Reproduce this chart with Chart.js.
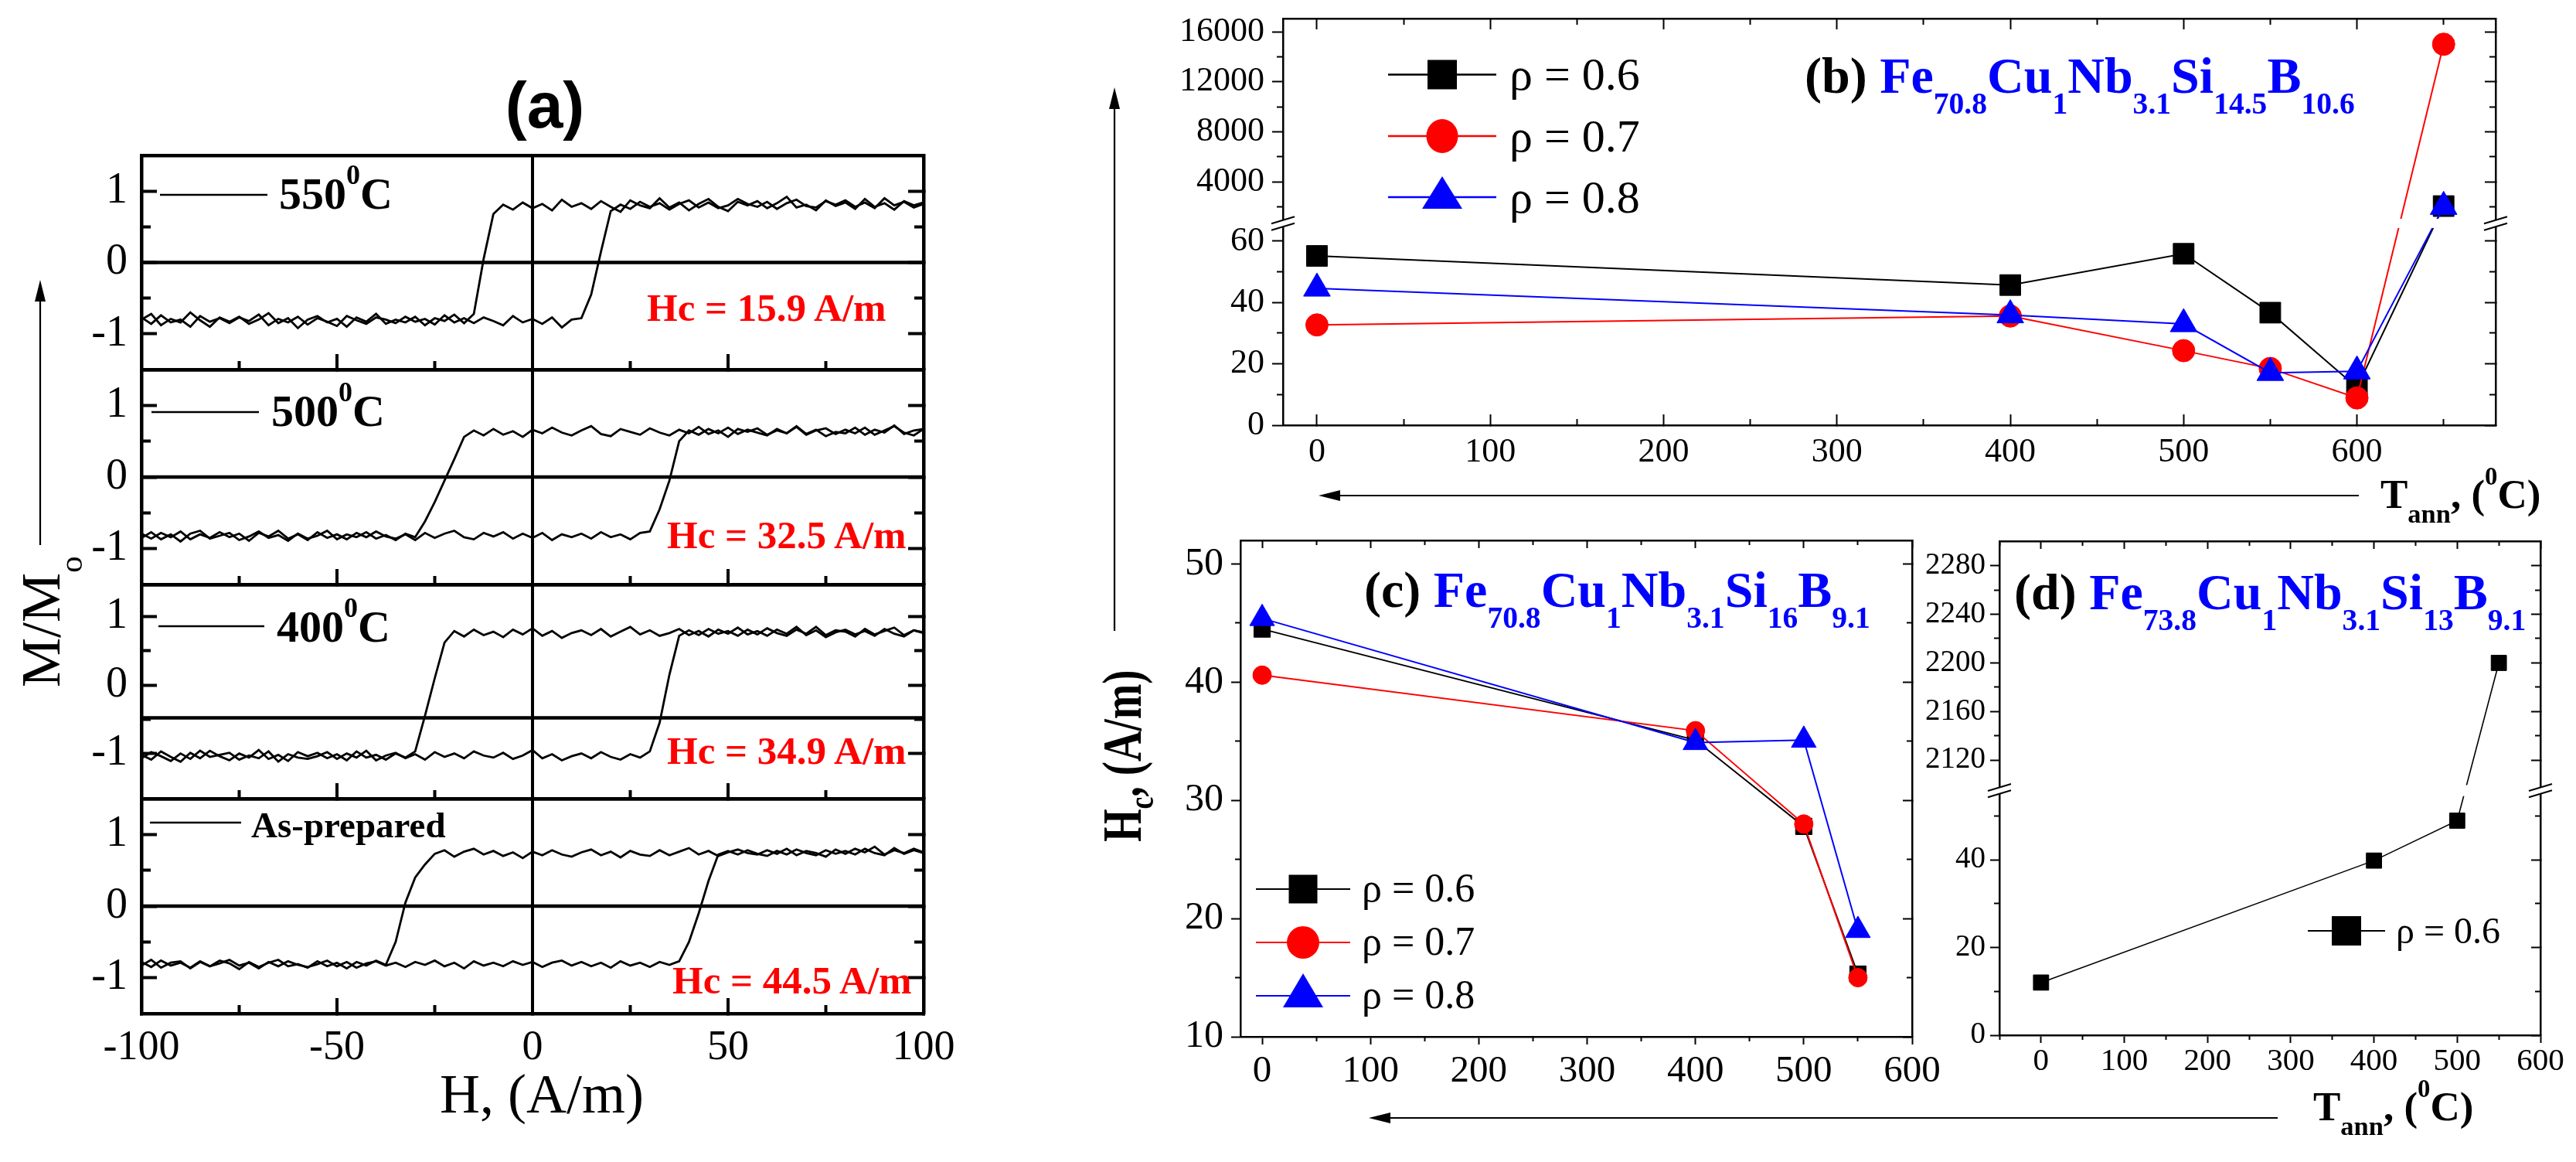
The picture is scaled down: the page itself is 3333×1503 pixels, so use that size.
<!DOCTYPE html>
<html>
<head>
<meta charset="utf-8">
<script src="https://cdn.jsdelivr.net/npm/chart.js@4.4.1/dist/chart.umd.min.js"></script>
<style>
html, body { margin: 0; padding: 0; background: #fff; }
#page { position: relative; width: 3333px; height: 1503px; overflow: hidden; background: #fff;
        font-family: 'Liberation Serif', 'Times New Roman', serif; color: #000; }
canvas { position: absolute; }
svg { position: absolute; left: 0; top: 0; }
.t { position: absolute; white-space: nowrap; line-height: 1; }
.b { font-weight: bold; }
.red { color: #f00; }
.blue { color: #00f; }
.t sub { font-size: 60%; line-height: 0; vertical-align: baseline; position: relative; top: 0.68em; }
.t sup { font-size: 62%; line-height: 0; vertical-align: baseline; position: relative; top: -0.9em; }
.t sub.a { font-size: 65%; top: 0.58em; }
.t sub.c { font-size: 65%; top: 0.35em; }
.rot { transform-origin: 0 0; transform: rotate(-90deg); }
</style>
</head>
<body>
<div id="page">
<svg id="deco" width="3333" height="1503" viewBox="0 0 3333 1503">
  <g stroke="#000" stroke-width="2.5">
    <line x1="207" y1="252" x2="346" y2="252"/>
    <line x1="196" y1="533" x2="335" y2="533"/>
    <line x1="205" y1="810" x2="342" y2="810"/>
    <line x1="194" y1="1064" x2="312" y2="1064"/>
  </g>
  <g stroke="#000" stroke-width="2.2">
    <line x1="52" y1="705" x2="52" y2="385"/>
    <line x1="1442" y1="816" x2="1442" y2="135"/>
    <line x1="1730" y1="641" x2="3052" y2="641"/>
    <line x1="1795" y1="1446" x2="2947" y2="1446"/>
  </g>
  <g fill="#000">
    <polygon points="52,362 45,390 59,390"/>
    <polygon points="1442,113 1435,141 1449,141"/>
    <polygon points="1706,641 1734,634 1734,648"/>
    <polygon points="1771,1446 1799,1439 1799,1453"/>
  </g>
  <!-- legend glyphs (b) -->
  <line x1="1796" y1="96.5" x2="1936" y2="96.5" stroke="#000" stroke-width="2.5"/>
  <rect x="1847" y="77.5" width="38" height="38" fill="#000"/>
  <line x1="1796" y1="176" x2="1936" y2="176" stroke="#f00" stroke-width="2.5"/>
  <ellipse cx="1866" cy="176" rx="20.5" ry="22" fill="#f00"/>
  <line x1="1796" y1="255" x2="1936" y2="255" stroke="#00f" stroke-width="2.5"/>
  <polygon points="1866,228 1840,270 1892,270" fill="#00f"/>
  <!-- legend glyphs (c) -->
  <line x1="1625" y1="1150" x2="1747" y2="1150" stroke="#000" stroke-width="2.2"/>
  <rect x="1667.5" y="1131.5" width="37" height="37" fill="#000"/>
  <line x1="1625" y1="1219" x2="1747" y2="1219" stroke="#f00" stroke-width="2.2"/>
  <ellipse cx="1686" cy="1219" rx="21" ry="21" fill="#f00"/>
  <line x1="1625" y1="1288" x2="1747" y2="1288" stroke="#00f" stroke-width="2.2"/>
  <polygon points="1686,1259 1660,1303 1712,1303" fill="#00f"/>
  <!-- legend glyph (d) -->
  <line x1="2986" y1="1204" x2="3086" y2="1204" stroke="#000" stroke-width="2"/>
  <rect x="3017" y="1185" width="38" height="38" fill="#000"/>
</svg>

<div class="t" style="left:705px;top:94px;font-size:84px;font-family:'Liberation Sans',Arial,sans-serif;font-weight:bold;transform:translateX(-50%)">(a)</div>
<div class="t b" style="left:361px;top:222.3px;font-size:58px">550<sup>0</sup>C</div>
<div class="t b" style="left:351px;top:503.3px;font-size:58px">500<sup>0</sup>C</div>
<div class="t b" style="left:358px;top:782.3px;font-size:58px">400<sup>0</sup>C</div>
<div class="t b" style="left:325px;top:1043.5px;font-size:47px">As-prepared</div>
<div class="t b red" style="left:837px;top:372.7px;font-size:51px">Hc = 15.9 A/m</div>
<div class="t b red" style="left:863px;top:667.2px;font-size:51px">Hc = 32.5 A/m</div>
<div class="t b red" style="left:863px;top:946.2px;font-size:51px">Hc = 34.9 A/m</div>
<div class="t b red" style="left:870px;top:1243.2px;font-size:51px">Hc = 44.5 A/m</div>
<div class="t" style="left:569px;top:1378.5px;font-size:72px">H, (A/m)</div>
<div class="t rot" style="left:16.5px;top:889px;font-size:72px">M/M<sub>o</sub></div>

<div class="t b" style="left:2335px;top:64.6px;font-size:66px">(b) <span class="blue">Fe<sub>70.8</sub>Cu<sub>1</sub>Nb<sub>3.1</sub>Si<sub>14.5</sub>B<sub>10.6</sub></span></div>
<div class="t b" style="left:1765px;top:729.6px;font-size:66px">(c) <span class="blue">Fe<sub>70.8</sub>Cu<sub>1</sub>Nb<sub>3.1</sub>Si<sub>16</sub>B<sub>9.1</sub></span></div>
<div class="t b" style="left:2606px;top:732.6px;font-size:66px">(d) <span class="blue">Fe<sub>73.8</sub>Cu<sub>1</sub>Nb<sub>3.1</sub>Si<sub>13</sub>B<sub>9.1</sub></span></div>
<div class="t b" style="left:3080px;top:612.5px;font-size:53px">T<sub class="a">ann</sub>, (<sup>0</sup>C)</div>
<div class="t b" style="left:2993px;top:1404.5px;font-size:53px">T<sub class="a">ann</sub>, (<sup>0</sup>C)</div>
<div class="t b" style="left:1416px;top:1089px;font-size:72px;transform-origin:0 0;transform:rotate(-90deg) scaleX(0.76)">H<sub class="c">c</sub>, (A/m)</div>

<div class="t" style="left:1953px;top:65.6px;font-size:60px">ρ = 0.6</div>
<div class="t" style="left:1953px;top:145.6px;font-size:60px">ρ = 0.7</div>
<div class="t" style="left:1953px;top:224.6px;font-size:60px">ρ = 0.8</div>
<div class="t" style="left:1762px;top:1123.3px;font-size:52px">ρ = 0.6</div>
<div class="t" style="left:1762px;top:1192.3px;font-size:52px">ρ = 0.7</div>
<div class="t" style="left:1762px;top:1261.3px;font-size:52px">ρ = 0.8</div>
<div class="t" style="left:3100px;top:1179.7px;font-size:48px">ρ = 0.6</div>
</div>

<script>
// ---------- panel (a): hysteresis loops, M/Mo against H (A/m) ----------
const hGrid = [
  -100, -97.5, -95, -92.5, -90, -87.5, -85, -82.5, -80,
  -77.5, -75, -72.5, -70, -67.5, -65, -62.5, -60, -57.5,
  -55, -52.5, -50, -47.5, -45, -42.5, -40, -37.5, -35,
  -32.5, -30, -27.5, -25, -22.5, -20, -17.5, -15, -12.5,
  -10, -7.5, -5, -2.5, 0, 2.5, 5, 7.5, 10,
  12.5, 15, 17.5, 20, 22.5, 25, 27.5, 30, 32.5,
  35, 37.5, 40, 42.5, 45, 47.5, 50, 52.5, 55,
  57.5, 60, 62.5, 65, 67.5, 70, 72.5, 75, 77.5,
  80, 82.5, 85, 87.5, 90, 92.5, 95, 97.5, 100
];

// 550 C
const m550Up = [
  -0.80, -0.72, -0.88, -0.79, -0.84, -0.70, -0.81, -0.90, -0.77,
  -0.83, -0.76, -0.86, -0.80, -0.71, -0.85, -0.78, -0.92, -0.80,
  -0.75, -0.84, -0.79, -0.90, -0.77, -0.83, -0.72, -0.86, -0.80,
  -0.84, -0.76, -0.88, -0.78, -0.82, -0.73, -0.85, -0.72, 0.05,
  0.68, 0.81, 0.74, 0.84, 0.76, 0.82, 0.73, 0.88, 0.78,
  0.83, 0.75, 0.86, 0.78, 0.71, 0.87, 0.80, 0.76, 0.90,
  0.77, 0.84, 0.73, 0.82, 0.89, 0.78, 0.72, 0.85, 0.80,
  0.86, 0.76, 0.83, 0.92, 0.77, 0.81, 0.73, 0.87, 0.79,
  0.84, 0.75, 0.89, 0.78, 0.83, 0.74, 0.86, 0.80, 0.84
];
const m550Dn = [
  -0.77, -0.86, -0.74, -0.84, -0.80, -0.90, -0.75, -0.83, -0.78,
  -0.85, -0.77, -0.82, -0.73, -0.88, -0.79, -0.84, -0.76, -0.87,
  -0.78, -0.83, -0.89, -0.75, -0.81, -0.86, -0.77, -0.80, -0.85,
  -0.76, -0.83, -0.79, -0.87, -0.74, -0.84, -0.78, -0.85, -0.77,
  -0.82, -0.88, -0.75, -0.84, -0.79, -0.86, -0.77, -0.91, -0.80,
  -0.78, -0.45, 0.15, 0.72, 0.81, 0.75, 0.85, 0.78, 0.83,
  0.74, 0.82, 0.87, 0.77, 0.84, 0.76, 0.80, 0.89, 0.82,
  0.78, 0.85, 0.75, 0.83, 0.88, 0.79, 0.77, 0.86, 0.81,
  0.87, 0.78, 0.84, 0.76, 0.90, 0.80, 0.85, 0.77, 0.82
];

// 500 C
const m500Up = [
  -0.85, -0.77, -0.87, -0.80, -0.90, -0.79, -0.75, -0.86, -0.82,
  -0.78, -0.88, -0.83, -0.76, -0.85, -0.81, -0.89, -0.79, -0.86,
  -0.82, -0.75, -0.87, -0.80, -0.84, -0.77, -0.86, -0.81, -0.88,
  -0.79, -0.84, -0.62, -0.35, -0.05, 0.25, 0.56, 0.65, 0.58,
  0.67, 0.59, 0.64, 0.56, 0.66, 0.61, 0.69, 0.62, 0.58,
  0.65, 0.71, 0.60, 0.57, 0.67, 0.63, 0.59, 0.68, 0.62,
  0.58, 0.66, 0.61, 0.70, 0.60, 0.65, 0.56, 0.67, 0.63,
  0.68, 0.59, 0.65, 0.61, 0.71, 0.60, 0.66, 0.57, 0.63,
  0.61, 0.69, 0.59, 0.66, 0.62, 0.72, 0.60, 0.65, 0.67
];
const m500Dn = [
  -0.79, -0.86, -0.78, -0.84, -0.76, -0.87, -0.80, -0.85, -0.77,
  -0.84, -0.79, -0.89, -0.78, -0.83, -0.75, -0.86, -0.80, -0.88,
  -0.77, -0.85, -0.80, -0.87, -0.78, -0.84, -0.76, -0.83, -0.86,
  -0.80, -0.88, -0.78, -0.85, -0.79, -0.75, -0.84, -0.87, -0.78,
  -0.83, -0.77, -0.86, -0.79, -0.85, -0.78, -0.88, -0.80, -0.84,
  -0.79, -0.86, -0.77, -0.84, -0.80, -0.87, -0.78, -0.76, -0.45,
  -0.05, 0.50, 0.65, 0.59, 0.67, 0.61, 0.69, 0.60, 0.66,
  0.62, 0.58, 0.67, 0.61, 0.70, 0.59, 0.65, 0.68, 0.60,
  0.66, 0.61, 0.69, 0.59, 0.65, 0.71, 0.62, 0.58, 0.67
];

// 400 C
const m400Up = [
  -1.02, -1.09, -0.97, -1.05, -1.12, -0.99, -1.07, -0.96, -1.04,
  -1.10, -1.00, -1.06, -0.95, -1.08, -1.02, -1.11, -0.98, -1.04,
  -0.99, -1.07, -1.01, -1.10, -0.97, -1.06, -1.02, -1.09, -1.00,
  -1.06, -0.97, -0.45, 0.10, 0.62, 0.79, 0.71, 0.81, 0.73,
  0.78, 0.70, 0.81, 0.74, 0.83, 0.72, 0.79, 0.69, 0.76,
  0.80, 0.73, 0.82, 0.71, 0.78, 0.85, 0.74, 0.80, 0.72,
  0.76, 0.82, 0.73, 0.79, 0.71, 0.81, 0.75, 0.84, 0.74,
  0.79, 0.72, 0.81, 0.75, 0.85, 0.73, 0.80, 0.70, 0.77,
  0.81, 0.74, 0.79, 0.72, 0.82, 0.75, 0.71, 0.80, 0.77
];
const m400Dn = [
  -1.07, -0.98, -1.04, -1.11, -1.00, -1.08, -0.96, -1.05, -1.02,
  -0.99, -1.09, -1.03, -1.07, -0.97, -1.12, -1.01, -1.06, -1.08,
  -1.04, -0.98, -1.08, -1.00, -1.06, -0.96, -1.10, -1.03, -0.99,
  -1.07, -1.01, -1.09, -0.98, -1.05, -1.00, -1.07, -0.97, -1.03,
  -1.06, -0.99, -1.08, -1.03, -0.95, -1.07, -1.01, -1.10, -1.04,
  -1.00, -1.07, -0.98, -1.05, -1.09, -1.01, -1.06, -0.97, -0.55,
  0.15, 0.72, 0.80, 0.73, 0.82, 0.75, 0.79, 0.72, 0.81,
  0.74, 0.83, 0.76, 0.72, 0.81, 0.75, 0.85, 0.73, 0.80,
  0.78, 0.71, 0.82, 0.74, 0.79, 0.84, 0.73, 0.80, 0.76
];

// as-prepared
const m0Up = [
  -0.83, -0.75, -0.86, -0.79, -0.77, -0.87, -0.78, -0.84, -0.76,
  -0.80, -0.88, -0.78, -0.85, -0.79, -0.75, -0.84, -0.81, -0.86,
  -0.77, -0.84, -0.79, -0.87, -0.78, -0.83, -0.76, -0.82, -0.50,
  0.05, 0.40, 0.58, 0.73, 0.78, 0.69, 0.76, 0.80, 0.72,
  0.77, 0.70, 0.75, 0.67, 0.76, 0.71, 0.78, 0.72, 0.69,
  0.75, 0.79, 0.71, 0.76, 0.68, 0.77, 0.72, 0.70, 0.78,
  0.71, 0.76, 0.81, 0.72, 0.77, 0.70, 0.75, 0.79, 0.74,
  0.72, 0.78, 0.73, 0.80, 0.71, 0.77, 0.74, 0.69, 0.79,
  0.73, 0.80, 0.75, 0.83, 0.72, 0.78, 0.74, 0.80, 0.75
];
const m0Dn = [
  -0.78, -0.85, -0.76, -0.83, -0.79, -0.86, -0.77, -0.84, -0.80,
  -0.75, -0.83, -0.79, -0.87, -0.78, -0.84, -0.77, -0.82, -0.85,
  -0.81, -0.76, -0.84, -0.78, -0.86, -0.80, -0.77, -0.83, -0.79,
  -0.85, -0.78, -0.82, -0.76, -0.84, -0.79, -0.87, -0.77, -0.83,
  -0.79, -0.84, -0.77, -0.82, -0.78, -0.85, -0.79, -0.76, -0.83,
  -0.78, -0.84, -0.79, -0.86, -0.77, -0.83, -0.79, -0.85, -0.78,
  -0.82, -0.77, -0.50, -0.10, 0.35, 0.72, 0.77, 0.72, 0.78,
  0.73, 0.70, 0.77, 0.72, 0.79, 0.74, 0.71, 0.78, 0.73,
  0.77, 0.72, 0.80, 0.74, 0.71, 0.81, 0.73, 0.78, 0.74
];

const aTicksX = [-100, -50, 0, 50, 100];
const aMinorX = [-75, -25, 25, 75];
const aTicksY = [-1, 0, 1];
const aMinorY = [-0.5, 0.5];

// ---------- panel (b): Hc against T_ann, Fe70.8Cu1Nb3.1Si14.5B10.6 ----------
const tempB = [0, 400, 500, 550, 600, 650];
const hcB06 = [55.2, 45.7, 55.9, 36.7, 12.3, 2050];
const hcB07 = [32.7, 35.6, 24.3, 18.5, 8.9, 15000];
const hcB08 = [44.6, 35.9, 33.0, 17.1, 17.6, 2000];
const bTicksX = [0, 100, 200, 300, 400, 500, 600];
const bMinorX = [50, 150, 250, 350, 450, 550, 650];
const bTicksY = [0, 20, 40, 60, 4000, 8000, 12000, 16000];
const bMinorY = [10, 30, 50, 2000, 6000, 10000, 14000];

// ---------- panel (c): Fe70.8Cu1Nb3.1Si16B9.1 ----------
const tempC = [0, 400, 500, 550];
const hcC06 = [44.5, 35.1, 27.8, 15.3];
const hcC07 = [40.6, 35.9, 28.0, 15.0];
const hcC08 = [45.4, 34.9, 35.1, 19.0];
const cTicksX = [0, 100, 200, 300, 400, 500, 600];
const cMinorX = [50, 150, 250, 350, 450, 550];
const cTicksY = [10, 20, 30, 40, 50];
const cMinorY = [15, 25, 35, 45];

// ---------- panel (d): Fe73.8Cu1Nb3.1Si13B9.1 ----------
const tempD = [0, 400, 500, 550];
const hcD06 = [12, 39.8, 48.9, 2200];
const dTicksX = [0, 100, 200, 300, 400, 500, 600];
const dMinorX = [-50, 50, 150, 250, 350, 450, 550];
const dTicksY = [0, 20, 40, 2120, 2160, 2200, 2240, 2280];
const dMinorY = [10, 30, 50, 2140, 2180, 2220, 2260];

// broken y axes: lower part kept as is, upper part squeezed above the break
function brkB(v) { return v <= 70 ? v : 79.4 + (v - 4000) * 0.004075; }
function brkD(v) { return v <= 56 ? v : 62.7 + (v - 2120) * 0.277; }

Chart.defaults.font.family = "'Liberation Serif', 'Times New Roman', serif";
Chart.defaults.color = '#000';

const page = document.getElementById('page');
const deco = document.getElementById('deco');

function makeCanvas(left, top, w, h) {
  const c = document.createElement('canvas');
  c.width = w; c.height = h;
  c.style.left = left + 'px'; c.style.top = top + 'px';
  c.style.width = w + 'px'; c.style.height = h + 'px';
  page.insertBefore(c, deco);
  return c;
}

function zeroPad(s) { s.paddingLeft = 0; s.paddingRight = 0; s.paddingTop = 0; s.paddingBottom = 0; }

// axis that only draws tick marks (and maybe a frame line)
function tickAxis(pos, min, max, vals, len, lw, bw) {
  const horiz = pos === 'top' || pos === 'bottom';
  return {
    type: 'linear', position: pos, min: min, max: max, bounds: 'data', weight: 0,
    afterBuildTicks: s => { s.ticks = vals.map(v => ({ value: v })); },
    afterFit: s => { if (horiz) s.height = 0; else s.width = 0; zeroPad(s); },
    ticks: { display: false, autoSkip: false },
    grid: { drawOnChartArea: false, drawTicks: len !== 0, tickLength: len, tickWidth: lw, tickColor: '#000' },
    border: { display: !!bw, width: bw || 0, color: '#000' }
  };
}

// axis with labels
function mainAxis(pos, min, max, vals, labels, len, lw, bw, size, pad, fs, grid) {
  const horiz = pos === 'top' || pos === 'bottom';
  return {
    type: 'linear', position: pos, min: min, max: max, bounds: 'data', weight: 10,
    afterBuildTicks: s => { s.ticks = vals.map(v => ({ value: v })); },
    afterFit: s => { if (horiz) s.height = size; else s.width = size; zeroPad(s); },
    ticks: { display: !!labels, autoSkip: false, maxRotation: 0, minRotation: 0, padding: pad,
             color: '#000', font: { size: fs }, callback: (v, i) => labels ? labels[i] : '' },
    grid: Object.assign({ drawOnChartArea: false, tickLength: len, tickWidth: lw, tickColor: '#000' }, grid || {}),
    border: { display: true, width: bw, color: '#000' }
  };
}

function baseOpts(pad, scales, plug) {
  return {
    responsive: false, animation: false, devicePixelRatio: 1, events: [],
    layout: { padding: pad, autoPadding: false },
    plugins: Object.assign({ legend: { display: false }, tooltip: { enabled: false } }, plug || {}),
    scales: scales
  };
}

const baseLinePlugin = {
  id: 'baseLine',
  beforeDatasetsDraw(chart, args, o) {
    if (!o || o.value === undefined) return;
    const a = chart.chartArea, y = chart.scales.y.getPixelForValue(o.value), ctx = chart.ctx;
    ctx.save();
    ctx.strokeStyle = '#000'; ctx.lineWidth = 4.5;
    ctx.beginPath(); ctx.moveTo(a.left, y); ctx.lineTo(a.right, y); ctx.stroke();
    ctx.restore();
  }
};

const breakPlugin = {
  id: 'axisBreak',
  afterDatasetsDraw(chart, args, o) {
    if (!o || o.lo === undefined) return;
    const ctx = chart.ctx, a = chart.chartArea, y = chart.scales.y;
    const yHi = y.getPixelForValue(o.hi), yLo = y.getPixelForValue(o.lo), yc = (yHi + yLo) / 2;
    ctx.save();
    ctx.fillStyle = '#fff';
    ctx.fillRect(a.left + 3, yHi, a.right - a.left - 6, yLo - yHi);
    ctx.strokeStyle = '#000'; ctx.lineWidth = 2;
    [a.left, a.right].forEach(x => {
      ctx.beginPath();
      ctx.moveTo(x - 15, yc + 0.3); ctx.lineTo(x + 15, yc - 8.7);
      ctx.lineTo(x + 15, yc - 0.3); ctx.lineTo(x - 15, yc + 8.7); ctx.closePath();
      ctx.fill();
      ctx.beginPath();
      ctx.moveTo(x - 15, yc + 0.3); ctx.lineTo(x + 15, yc - 8.7);
      ctx.moveTo(x - 15, yc + 8.7); ctx.lineTo(x + 15, yc - 0.3);
      ctx.stroke();
    });
    ctx.restore();
  }
};

// ---------- draw panel (a) ----------
const loops = [[m550Up, m550Dn], [m500Up, m500Dn], [m400Up, m400Dn], [m0Up, m0Dn]];
const aRangeY = [[-1.5, 1.5], [-1.5, 1.5], [-1.66, 1.47], [-1.5, 1.5]];
const aBase = [0, 0, -0.48, 0];
const aTop = [201, 478, 756, 1033];
const aH = [277, 278, 277, 278];

function loopDs(m) {
  return { data: hGrid.map((h, k) => ({ x: h, y: m[k] })), showLine: true, borderColor: '#000',
           borderWidth: 2.8, pointRadius: 0, tension: 0, xAxisID: 'x', yAxisID: 'y' };
}

const zeroGrid = { drawOnChartArea: true, lineWidth: 4,
  color: c => (c.tick && c.tick.value === 0) ? '#000' : 'rgba(0,0,0,0)' };

for (let i = 0; i < 4; i++) {
  const last = i === 3;
  const xH = last ? 110 : 0;
  const h = last ? aH[i] + 140 : aH[i] + 60;
  const y0 = aRangeY[i][0], y1 = aRangeY[i][1];
  const cv = makeCanvas(0, aTop[i] - 30, 1300, h);
  const scales = {
    x: mainAxis('bottom', -100, 100, aTicksX, last ? aTicksX.map(String) : null, -20, 4, 4.5, xH, 32, 54, zeroGrid),
    y: mainAxis('left', y0, y1, aTicksY, aTicksY.map(String), -20, 4, 4.5, 183, 38, 56),
    xm: tickAxis('bottom', -100, 100, aMinorX, -11, 4, 0),
    xt: tickAxis('top', -100, 100, [0], 0, 4, 4.5),
    ym: tickAxis('left', y0, y1, aMinorY, -12, 4, 0),
    yr: tickAxis('right', y0, y1, aTicksY, -20, 4, 4.5),
    yrm: tickAxis('right', y0, y1, aMinorY, -12, 4, 0)
  };
  new Chart(cv, {
    type: 'scatter',
    data: { datasets: [loopDs(loops[i][0]), loopDs(loops[i][1])] },
    options: baseOpts({ left: 0, top: 30, right: 105, bottom: h - 30 - aH[i] - xH }, scales,
                      { baseLine: { value: aBase[i] } }),
    plugins: [baseLinePlugin]
  });
}

// ---------- helper for the Hc series ----------
function series(xs, ys, tf, color, style, r, lw, order) {
  return {
    data: xs.map((x, k) => ({ x: x, y: tf(ys[k]) })), showLine: true, tension: 0,
    borderColor: color, backgroundColor: color, pointBackgroundColor: color, pointBorderColor: color,
    borderWidth: lw, pointStyle: style, pointRadius: r, pointBorderWidth: 1, order: order,
    xAxisID: 'x', yAxisID: 'y'
  };
}
const ident = v => v;

// ---------- panel (b) ----------
{
  const yMax = 132.6, xMin = -19.6, xMax = 680;
  const cv = makeCanvas(1480, 0, 1820, 640);
  const scales = {
    x: mainAxis('bottom', xMin, xMax, bTicksX, bTicksX.map(String), -14, 2, 2.5, 90, 23, 44),
    y: mainAxis('left', 0, yMax, bTicksY.map(brkB), bTicksY.map(String), 14, 2, 2.5, 180, 10, 44),
    xm: tickAxis('bottom', xMin, xMax, bMinorX, -8, 2, 0),
    xt: tickAxis('top', xMin, xMax, bTicksX, -14, 2, 2.5),
    xtm: tickAxis('top', xMin, xMax, bMinorX, -8, 2, 0),
    ym: tickAxis('left', 0, yMax, bMinorY.map(brkB), 8, 2, 0),
    yr: tickAxis('right', 0, yMax, bTicksY.map(brkB), -14, 2, 2.5),
    yrm: tickAxis('right', 0, yMax, bMinorY.map(brkB), -8, 2, 0)
  };
  new Chart(cv, {
    type: 'scatter',
    data: { datasets: [
      series(tempB, hcB06, brkB, '#000', 'rect', 19, 2, 2),
      series(tempB, hcB07, brkB, '#f00', 'circle', 14.5, 2, 1),
      series(tempB, hcB08, brkB, '#00f', 'triangle', 20, 2, 0)
    ] },
    options: baseOpts({ left: 0, top: 24, right: 71, bottom: 0 }, scales, { axisBreak: { lo: 64.3, hi: 67.3 } }),
    plugins: [breakPlugin]
  });
}

// ---------- panel (c) ----------
{
  const xMin = -20, xMax = 600, yMin = 10, yMax = 52;
  const cv = makeCanvas(1480, 640, 1040, 800);
  const scales = {
    x: mainAxis('bottom', xMin, xMax, cTicksX, cTicksX.map(String), 10, 2, 2.5, 80, 6, 49),
    y: mainAxis('left', yMin, yMax, cTicksY, cTicksY.map(String), 12, 2, 2.5, 125, 10, 50),
    xm: tickAxis('bottom', xMin, xMax, cMinorX, 6, 2, 0),
    xt: tickAxis('top', xMin, xMax, cTicksX, -10, 2, 2.5),
    xtm: tickAxis('top', xMin, xMax, cMinorX, -6, 2, 0),
    ym: tickAxis('left', yMin, yMax, cMinorY, 7, 2, 0),
    yr: tickAxis('right', yMin, yMax, cTicksY, -12, 2, 2.5),
    yrm: tickAxis('right', yMin, yMax, cMinorY, -7, 2, 0)
  };
  new Chart(cv, {
    type: 'scatter',
    data: { datasets: [
      series(tempC, hcC06, ident, '#000', 'rect', 15, 2, 2),
      series(tempC, hcC07, ident, '#f00', 'circle', 12, 2, 1),
      series(tempC, hcC08, ident, '#00f', 'triangle', 18.5, 2, 0)
    ] },
    options: baseOpts({ left: 0, top: 59, right: 46, bottom: 19 }, scales)
  });
}

// ---------- panel (d) ----------
{
  const xMin = -50, xMax = 600, yMax = 112.6;
  const cv = makeCanvas(2470, 640, 863, 800);
  const scales = {
    x: mainAxis('bottom', xMin, xMax, dTicksX, dTicksX.map(String), 10, 2, 2.5, 80, 0, 41),
    y: mainAxis('left', 0, yMax, dTicksY.map(brkD), dTicksY.map(String), 12, 2, 2.5, 117, 6, 39),
    xm: tickAxis('bottom', xMin, xMax, dMinorX, 6, 2, 0),
    xt: tickAxis('top', xMin, xMax, dTicksX, -10, 2, 2.5),
    xtm: tickAxis('top', xMin, xMax, dMinorX, -6, 2, 0),
    ym: tickAxis('left', 0, yMax, dMinorY.map(brkD), 7, 2, 0),
    yr: tickAxis('right', 0, yMax, dTicksY.map(brkD), -12, 2, 2.5),
    yrm: tickAxis('right', 0, yMax, dMinorY.map(brkD), -7, 2, 0)
  };
  new Chart(cv, {
    type: 'scatter',
    data: { datasets: [ series(tempD, hcD06, brkD, '#000', 'rect', 14, 1.6, 0) ] },
    options: baseOpts({ left: 0, top: 60, right: 46, bottom: 21 }, scales, { axisBreak: { lo: 54.5, hi: 57 } }),
    plugins: [breakPlugin]
  });
}
</script>
</body>
</html>
